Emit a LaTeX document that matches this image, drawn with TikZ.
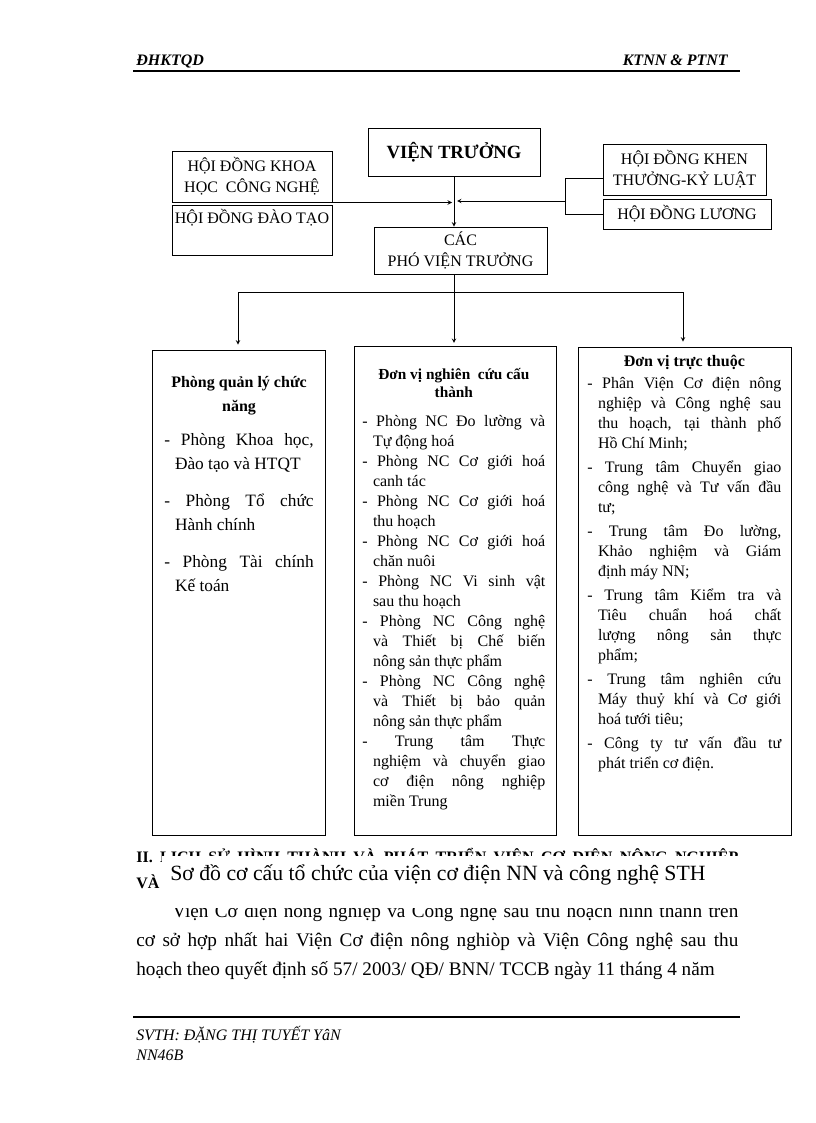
\documentclass[tikz,border=0pt]{standalone}
\usepackage{fontspec}
\setmainfont{Liberation Serif}
\usetikzlibrary{positioning}
\hyphenpenalty=10000
\exhyphenpenalty=10000

\tikzset{
  orgbox/.style={draw, line width=0.6pt, inner sep=0pt, align=center, font=\fontsize{12}{15.75}\selectfont},
  colbox/.style={draw, line width=0.6pt, inner sep=0pt},
  coltext/.style={anchor=north west, inner sep=0pt, align=justify},
  bodyline/.style={anchor=base west, inner sep=0pt, font=\fontsize{14.4}{16}\selectfont},
  footline/.style={anchor=base west, inner sep=0pt, font=\fontsize{12}{14}\selectfont\itshape},
}
\newcommand{\colitem}[1]{\par\hangindent=8pt\hangafter=1\noindent #1\par}

\begin{document}
\begin{tikzpicture}[x=0.75pt, y=-0.75pt, >=stealth, line width=0.5pt]
\useasboundingbox (0,0) rectangle (816,1123);

% ----- Header -----
\node[anchor=base west, inner sep=0pt, font=\fontsize{12}{14}\selectfont\bfseries\itshape] (hdleft) at (136,66) {ĐHKTQD};
\node[anchor=base east, inner sep=0pt, font=\fontsize{12}{14}\selectfont\bfseries\itshape] (hdright) at (728,66) {KTNN \& PTNT};
\draw[line width=0.8pt] (133,71) -- (740,71);

% ----- Top boxes -----
\node[orgbox, minimum width=129pt, minimum height=36pt, font=\fontsize{14}{16}\selectfont\bfseries] (vt) at (454,152) {VIỆN TRƯỞNG};
\node[orgbox, minimum width=120pt, minimum height=38.25pt] (hdkh) at (252,176.5) {HỘI ĐỒNG KHOA\\HỌC\ \ CÔNG NGHỆ};
\node[orgbox, minimum width=120pt, minimum height=37.5pt,
  label={[anchor=north, inner sep=0pt, yshift=-3pt, font=\fontsize{12}{14}\selectfont]north:HỘI ĐỒNG ĐÀO TẠO}] (hddt) at (252,230) {};
\node[orgbox, minimum width=122.25pt, minimum height=38.25pt] (ktkl) at (684.5,169.5) {HỘI ĐỒNG KHEN\\THƯỞNG-KỶ LUẬT};
\node[orgbox, minimum width=126pt, minimum height=22.5pt] (luong) at (687,214) {HỘI ĐỒNG LƯƠNG};
\node[orgbox, minimum width=129.75pt, minimum height=35.25pt] (cac) at (460.5,250.5) {CÁC\\PHÓ VIỆN TRƯỞNG};

% ----- Links between top boxes -----
\coordinate (jl) at (452,202.5);
\coordinate (jr) at (457,201);
\coordinate (br) at (566,201);
\draw[->] (vt.south) -- (vt.south |- cac.north);
\draw[->] (hdkh.south east |- jl) -- (jl);
\draw ([yshift=-6.4pt]ktkl.west) -- ++(-37,0) |- (luong.west);
\draw[->] (br) -- (jr);

% ----- Columns -----
\node[colbox, minimum width=129.75pt, minimum height=363.75pt] (left) at (238.5,592.5) {};
\node[colbox, minimum width=151.5pt, minimum height=366.75pt] (mid) at (455,590.5) {};
\node[colbox, minimum width=159.75pt, minimum height=366pt] (right) at (684.5,591) {};

\coordinate (hl) at (238,292);
\coordinate (hr) at (683,292);
\draw (hl) -- (hr);
\draw[->] (vt.south |- cac.south) -- ([yshift=2pt]vt.south |- mid.north);
\draw[->] (hl) -- ([yshift=3.75pt]hl |- left.north);
\draw[->] (hr) -- ([yshift=3.75pt]hr |- right.north);

% ----- Column texts -----
\node[coltext, text width=112pt, font=\fontsize{13}{18}\selectfont] (lefttext) at (164,376) {%
{\centering\bfseries\fontsize{12}{18}\selectfont Phòng quản lý chức\par năng\par}%
\vskip7.5pt
\colitem{- Phòng Khoa học,\linebreak Đào tạo và HTQT}%
\vskip9.75pt
\colitem{- Phòng Tổ chức\linebreak Hành chính}%
\vskip9.75pt
\colitem{- Phòng Tài chính\linebreak Kế toán}};

\node[coltext, text width=137.25pt, font=\fontsize{12}{15}\selectfont] (midtext) at (362,368) {%
{\centering\bfseries\fontsize{11.5}{13.5}\selectfont Đơn vị nghiên\ \ cứu cấu\par thành\par}%
\vskip6.75pt
\colitem{- Phòng NC Đo lường và\linebreak Tự động hoá}%
\colitem{- Phòng NC Cơ giới hoá\linebreak canh tác}%
\colitem{- Phòng NC Cơ giới hoá\linebreak thu hoạch}%
\colitem{- Phòng NC Cơ giới hoá\linebreak chăn nuôi}%
\colitem{- Phòng NC Vi sinh vật\linebreak sau thu hoạch}%
\colitem{- Phòng NC Công nghệ\linebreak và Thiết bị Chế biến\linebreak nông sản thực phẩm}%
\colitem{- Phòng NC Công nghệ\linebreak và Thiết bị bảo quản\linebreak nông sản thực phẩm}%
\colitem{- Trung tâm Thực\linebreak nghiệm và chuyển giao\linebreak cơ điện nông nghiệp\linebreak miền Trung}};

\node[coltext, text width=145.5pt, font=\fontsize{12}{15}\selectfont] (righttext) at (587,355) {%
{\centering\bfseries Đơn vị trực thuộc\par}%
\vskip1.5pt
\colitem{- Phân Viện Cơ điện nông\linebreak nghiệp và Công nghệ sau\linebreak thu hoạch, tại thành phố\linebreak Hồ Chí Minh;}%
\vskip3pt
\colitem{- Trung tâm Chuyển giao\linebreak công nghệ và Tư vấn đầu\linebreak tư;}%
\vskip3pt
\colitem{- Trung tâm Đo lường,\linebreak Khảo nghiệm và Giám\linebreak định máy NN;}%
\vskip3pt
\colitem{- Trung tâm Kiểm tra và\linebreak Tiêu chuẩn hoá chất\linebreak lượng nông sản thực\linebreak phẩm;}%
\vskip3pt
\colitem{- Trung tâm nghiên cứu\linebreak Máy thuỷ khí và Cơ giới\linebreak hoá tưới tiêu;}%
\vskip3pt
\colitem{- Công ty tư vấn đầu tư\linebreak phát triển cơ điện.}};

% ----- Text below the chart -----
\node[anchor=base west, inner sep=0pt, font=\fontsize{12}{14}\selectfont\bfseries] (sec) at (136,862)
  {\makebox[451.5pt][s]{II. LỊCH SỬ HÌNH THÀNH VÀ PHÁT TRIỂN VIỆN CƠ ĐIỆN NÔNG NGHIỆP}};
\node[anchor=base west, inner sep=0pt, font=\fontsize{12}{14}\selectfont\bfseries] (secva) at (136,888) {VÀ};
\node[bodyline] (body1) at (172,917) {\makebox[424.5pt][s]{Viện Cơ điện nông nghiệp và Công nghệ sau thu hoạch hình thành trên}};
\node[bodyline] (body2) at (136,946) {\makebox[451.5pt][s]{cơ sở hợp nhất hai Viện Cơ điện nông nghiòp và Viện Công nghệ sau thu}};
\node[bodyline] (body3) at (136,975) {hoạch theo quyết định số 57/ 2003/ QĐ/ BNN/ TCCB ngày 11 tháng 4 năm};

% caption box lies over the text
\node[fill=white, inner sep=0pt, anchor=north west, minimum width=437pt, minimum height=39pt] (capbox) at (162,856) {};
\node[anchor=base west, inner sep=0pt, font=\fontsize{16.3}{18}\selectfont] (caption) at (170,880)
  {Sơ đồ cơ cấu tổ chức của viện cơ điện NN và công nghệ STH};

% ----- Footer -----
\draw[line width=0.8pt] (133,1017) -- (740,1017);
\node[footline] (foot1) at (136,1040) {SVTH: ĐẶNG THỊ TUYẾT YâN};
\node[footline] (foot2) at (136,1060) {NN46B};
\end{tikzpicture}
\end{document}
